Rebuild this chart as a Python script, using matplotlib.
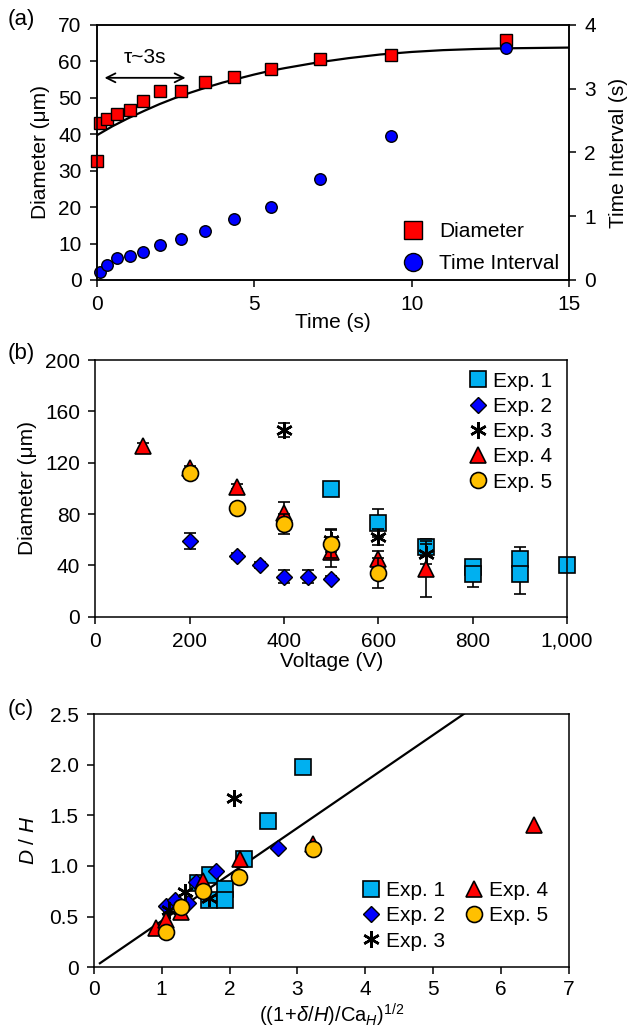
import matplotlib
matplotlib.use("Agg")
import matplotlib.pyplot as plt
from matplotlib.ticker import FuncFormatter
from matplotlib.lines import Line2D
import numpy as np

plt.rcParams['font.family'] = ['Liberation Sans', 'DejaVu Sans']
plt.rcParams['mathtext.fontset'] = 'custom'
plt.rcParams['mathtext.rm'] = 'Liberation Sans'
plt.rcParams['mathtext.it'] = 'Liberation Sans:italic'
plt.rcParams['axes.linewidth'] = 1.1
plt.rcParams['font.size'] = 15

# colours
red = "#FF0000"
blue = "#0000FF"
light_blue = "#00B0F0"
yellow = "#FFC000"
asterisk = (6, 2, 0)

# ---- panel (a) data
time_s = [0.0, 0.1, 0.33, 0.66, 1.05, 1.48, 2.02, 2.67, 3.44, 4.37, 5.52, 7.10, 9.35, 13.0]
diameter_um = [32.8, 43.0, 44.2, 45.5, 46.8, 49.2, 52.0, 51.8, 54.3, 55.6, 58.0, 60.6, 61.9, 65.8]
interval_t = [0.1, 0.33, 0.66, 1.05, 1.48, 2.02, 2.67, 3.44, 4.37, 5.52, 7.10, 9.35, 13.0]
interval_s = [0.13, 0.23, 0.34, 0.38, 0.44, 0.55, 0.65, 0.77, 0.95, 1.15, 1.58, 2.26, 3.64]
# exponential fit curve
fit_t = [0, 0.5, 1, 1.5, 2, 2.5, 3, 3.5, 4, 4.5, 5, 5.5, 6, 7, 8, 9, 10, 11, 12, 13, 14, 15]
fit_d = [39.7, 42.2, 44.4, 46.4, 48.3, 50.0, 51.5, 52.9, 54.2, 55.3, 56.4, 57.4, 58.2,
         59.7, 60.9, 61.9, 62.6, 63.1, 63.4, 63.6, 63.7, 63.8]

# ---- panel (b) data: voltage, diameter, error (low, high)
exp1_v = [500, 600, 700, 800, 800, 900, 900, 1000]
exp1_d = [99.4, 72.8, 54.0, 38.7, 33.5, 45.0, 33.0, 40.0]
exp1_lo = [0, 11, 6.5, 0, 10, 0, 15, 0]
exp1_hi = [0, 11, 6.5, 0, 10, 0, 21, 0]
exp2_v = [200, 300, 350, 400, 450, 500]
exp2_d = [59.2, 47.3, 40.3, 31.2, 31.2, 29.6]
exp2_err = [6.4, 2.5, 2, 5, 5, 2]
exp3_v = [400, 500, 600, 700]
exp3_d = [145.5, 59.5, 62.0, 49.0]
exp3_err = [5.7, 9, 6, 8]
exp4_v = [100, 200, 300, 400, 500, 600, 700]
exp4_d = [133.0, 115.8, 101.3, 80.5, 50.6, 44.7, 36.9]
exp4_err = [2, 2, 2, 9, 11.6, 6.7, 21.8]
exp5_v = [200, 300, 400, 500, 600]
exp5_d = [111.7, 85.0, 72.2, 56.6, 33.8]
exp5_err = [3, 3, 8, 11, 11.7]

# ---- panel (c) data
c1_x = [1.54, 1.70, 1.71, 1.93, 1.93, 2.21, 2.57, 3.08]
c1_y = [0.83, 0.66, 0.91, 0.77, 0.66, 1.07, 1.44, 1.98]
c2_x = [1.07, 1.20, 1.39, 1.51, 1.80, 2.71]
c2_y = [0.605, 0.66, 0.63, 0.84, 0.95, 1.18]
c3_x = [1.11, 1.34, 1.69, 2.06]
c3_y = [0.57, 0.74, 0.68, 1.67]
c4_x = [0.92, 1.07, 1.29, 1.61, 2.15, 3.23, 6.49]
c4_y = [0.385, 0.47, 0.55, 0.855, 1.07, 1.22, 1.40]
c5_x = [1.07, 1.29, 1.61, 2.14, 3.23]
c5_y = [0.35, 0.60, 0.75, 0.89, 1.17]
line_x = [0.09, 5.45]
line_y = [0.04, 2.5]

W, H = 631, 1028
fig = plt.figure(figsize=(W / 100, H / 100), dpi=100)


def axes_px(left, right, top, bottom):
    return fig.add_axes([left / W, 1 - bottom / H, (right - left) / W, (bottom - top) / H])


def style_ticks(ax, xpad=6):
    ax.tick_params(direction='out', length=5, width=1.1, labelsize=15)
    ax.tick_params(axis='x', pad=xpad)
    ax.tick_params(axis='y', pad=6)
    ax.tick_params(top=False, right=False)


# ================= (a)
ax1 = axes_px(96.7, 569, 25, 280)
ax2 = ax1.twinx()
ax1.plot(fit_t, fit_d, color='black', lw=1.6, zorder=2)
ax1.plot(time_s, diameter_um, 's', ms=8, color=red, mec='black', mew=1, zorder=3, clip_on=False)
ax2.plot(interval_t, interval_s, 'o', ms=8.3, color=blue, mec='black', mew=1, clip_on=False)
ax1.set_xlim(0, 15)
ax1.set_ylim(0, 70)
ax2.set_ylim(0, 4)
ax1.set_xticks([0, 5, 10, 15])
ax1.set_yticks(range(0, 71, 10))
ax2.set_yticks(range(0, 5))
style_ticks(ax1)
ax2.tick_params(direction='out', length=5, width=1.1, pad=6, labelsize=15)
ax1.set_xlabel("Time (s)", fontsize=15, labelpad=-1)
ax1.set_ylabel("Diameter (μm)", fontsize=15, labelpad=6)
ax2.set_ylabel("Time Interval (s)", fontsize=15, labelpad=9)
ax1.annotate("", xy=(0.16, 55.5), xytext=(2.91, 55.5),
             arrowprops=dict(arrowstyle='<->', lw=1.3, color='black', mutation_scale=16))
ax1.text(1.53, 61, "τ~3s", ha='center', va='center', fontsize=15)
h_a = [Line2D([], [], ls='none', marker='s', ms=12.5, color=red, mec='black', mew=1),
       Line2D([], [], ls='none', marker='o', ms=13, color=blue, mec='black', mew=1)]
ax2.legend(h_a, ["Diameter", "Time Interval"], loc='upper left', bbox_to_anchor=(0.648, 0.226),
           frameon=False, fontsize=15, handlelength=1.0, handletextpad=0.75,
           labelspacing=0.6, borderpad=0, borderaxespad=0, numpoints=1)
fig.text(8 / W, 1 - 20 / H, "(a)", fontsize=16, va='center', ha='left')

# ================= (b)
axb = axes_px(95.4, 567, 360, 616.7)
ek = dict(fmt='none', ecolor='black', elinewidth=1.2, capsize=4, capthick=1.2)
axb.errorbar(exp1_v, exp1_d, yerr=[exp1_lo, exp1_hi], **ek)
axb.plot(exp1_v, exp1_d, 's', ms=11, color=light_blue, mec='black', mew=1.2, label="Exp. 1", clip_on=False)
axb.errorbar(exp2_v, exp2_d, yerr=exp2_err, **ek)
axb.plot(exp2_v, exp2_d, 'D', ms=8, color=blue, mec='black', mew=1, label="Exp. 2")
axb.errorbar(exp3_v, exp3_d, yerr=exp3_err, **ek)
axb.plot(exp3_v, exp3_d, marker=asterisk, ls='none', ms=12, color='black', mew=1.8, label="Exp. 3")
axb.errorbar(exp4_v, exp4_d, yerr=exp4_err, **ek)
axb.plot(exp4_v, exp4_d, '^', ms=11, color=red, mec='black', mew=1.2, label="Exp. 4")
axb.errorbar(exp5_v, exp5_d, yerr=exp5_err, **ek)
axb.plot(exp5_v, exp5_d, 'o', ms=11.5, color=yellow, mec='black', mew=1.2, label="Exp. 5")
axb.set_xlim(0, 1000)
axb.set_ylim(0, 200)
axb.set_xticks(range(0, 1001, 200))
axb.set_yticks(range(0, 201, 40))
axb.xaxis.set_major_formatter(FuncFormatter(lambda v, p: "{:,.0f}".format(v)))
style_ticks(axb)
axb.set_xlabel("Voltage (V)", fontsize=15, labelpad=1)
axb.set_ylabel("Diameter (μm)", fontsize=15, labelpad=6)
axb.legend(loc='upper left', bbox_to_anchor=(0.794, 0.955), frameon=False, fontsize=15,
           handlelength=0.8, handletextpad=0.3, labelspacing=0.3, borderpad=0,
           borderaxespad=0, numpoints=1)
fig.text(8 / W, 1 - 354 / H, "(b)", fontsize=16, va='center', ha='left')

# ================= (c)
axc = axes_px(93.8, 569, 714, 967.3)
axc.plot(line_x, line_y, color='black', lw=1.6, zorder=1)
axc.plot(c1_x, c1_y, 's', ms=11, color=light_blue, mec='black', mew=1.2, label="Exp. 1", zorder=3)
axc.plot(c2_x, c2_y, 'D', ms=8, color=blue, mec='black', mew=1, label="Exp. 2", zorder=3)
axc.plot(c3_x, c3_y, marker=asterisk, ls='none', ms=12, color='black', mew=1.8, label="Exp. 3", zorder=3)
axc.plot(c4_x, c4_y, '^', ms=11, color=red, mec='black', mew=1.2, label="Exp. 4", zorder=3)
axc.plot(c5_x, c5_y, 'o', ms=11.5, color=yellow, mec='black', mew=1.2, label="Exp. 5", zorder=3)
axc.set_xlim(0, 7)
axc.set_ylim(0, 2.5)
axc.set_xticks(range(0, 8))
axc.set_yticks([0, 0.5, 1.0, 1.5, 2.0, 2.5])
axc.yaxis.set_major_formatter(FuncFormatter(lambda v, p: "0" if v == 0 else "%.1f" % v))
style_ticks(axc, xpad=4.5)
axc.set_xlabel(r"$((1\!+\!\mathit{\delta}/\mathit{H})/\mathrm{Ca}_{\mathit{H}})^{1/2}$", fontsize=14.5, labelpad=1.5)
axc.set_ylabel(r"$\mathit{D}$ / $\mathit{H}$", fontsize=15, labelpad=8)
axc.legend(loc='upper left', bbox_to_anchor=(0.566, 0.34), ncol=2, frameon=False, fontsize=15,
           handlelength=0.8, handletextpad=0.3, labelspacing=0.3, columnspacing=1.0,
           borderpad=0, borderaxespad=0, numpoints=1)
fig.text(8 / W, 1 - 710 / H, "(c)", fontsize=16, va='center', ha='left')

fig.savefig("out.png", dpi=100)
